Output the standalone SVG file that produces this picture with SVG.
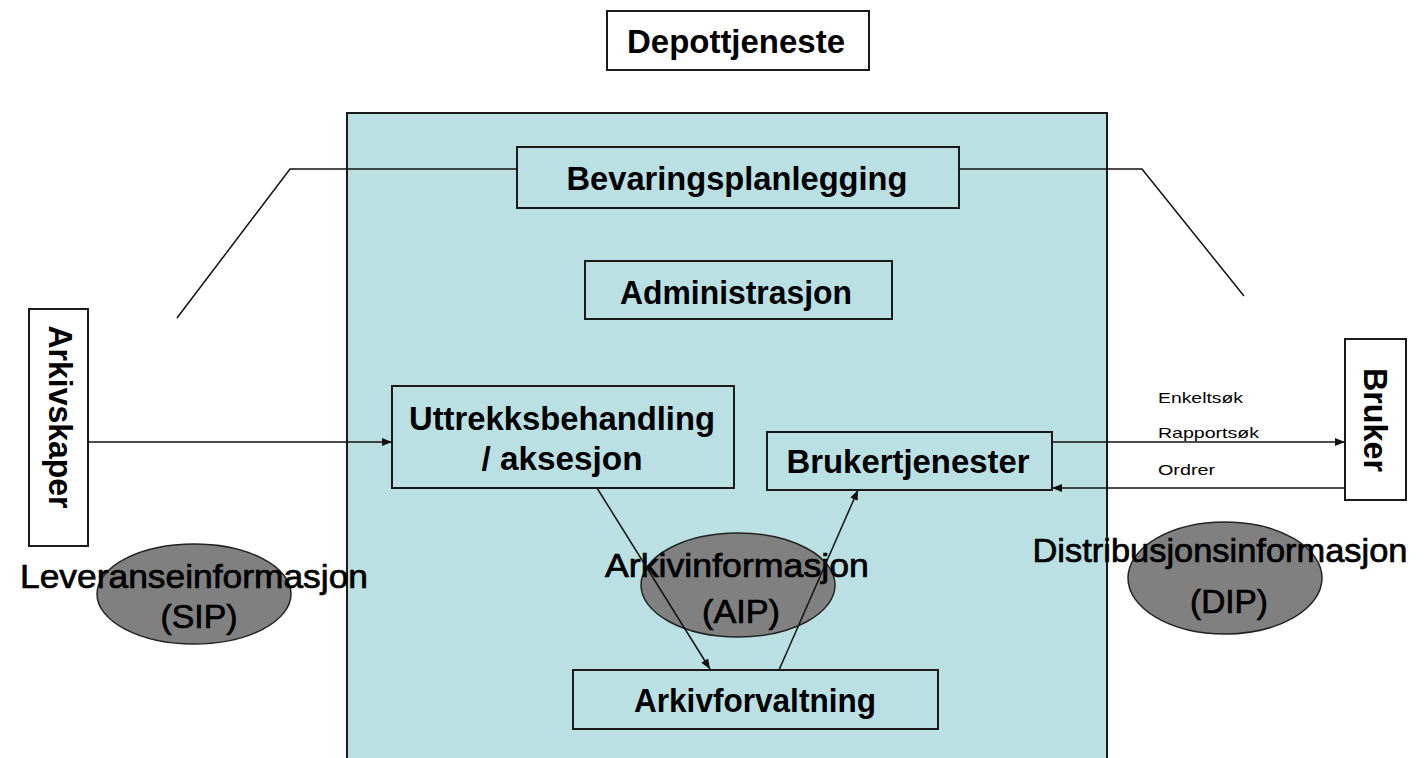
<svg xmlns="http://www.w3.org/2000/svg" width="1425" height="758" viewBox="0 0 1425 758">
<defs>
<marker id="ah" markerWidth="11" markerHeight="9" refX="10" refY="4" orient="auto" markerUnits="userSpaceOnUse">
<path d="M0,0 L10,4 L0,8 z" fill="#111"/>
</marker>
<style>
.box{fill:none;stroke:#1a1a1a;stroke-width:2}
.wbox{fill:#fff;stroke:#1a1a1a;stroke-width:2}
.lbl{font-family:"Liberation Sans",Arial,sans-serif;font-weight:bold;font-size:33px;fill:#000;text-anchor:middle}
.elbl{font-family:"Liberation Sans",Arial,sans-serif;font-size:33px;fill:#000;stroke:#000;stroke-width:0.7;text-anchor:middle}
.small{font-family:"Liberation Sans",Arial,sans-serif;font-size:15px;fill:#000}
.ell{fill:#808080;stroke:#222;stroke-width:1.5}
.ln{fill:none;stroke:#111;stroke-width:1.5}
.arr{fill:none;stroke:#111;stroke-width:1.5;marker-end:url(#ah)}
</style>
</defs>
<rect width="1425" height="758" fill="#fff"/>
<g id="depottjeneste-area">
<rect x="347" y="113" width="760" height="660" fill="#bbe0e3" stroke="#1a1a1a" stroke-width="2"/>
</g>
<g id="title">
<rect class="wbox" x="607" y="11" width="262" height="59"/>
<text class="lbl" x="736" y="53" textLength="218" lengthAdjust="spacingAndGlyphs">Depottjeneste</text>
</g>
<g id="sip">
<ellipse class="ell" cx="194" cy="594" rx="97" ry="50"/>
<text class="elbl" x="194" y="588" textLength="348" lengthAdjust="spacingAndGlyphs">Leveranseinformasjon</text>
<text class="elbl" x="199" y="628" textLength="77" lengthAdjust="spacingAndGlyphs">(SIP)</text>
</g>
<g id="aip">
<ellipse class="ell" cx="738" cy="585" rx="97" ry="52"/>
<text class="elbl" x="737" y="577" textLength="264" lengthAdjust="spacingAndGlyphs">Arkivinformasjon</text>
<text class="elbl" x="741" y="623" textLength="78" lengthAdjust="spacingAndGlyphs">(AIP)</text>
</g>
<g id="dip">
<ellipse class="ell" cx="1225" cy="578" rx="97" ry="56"/>
<text class="elbl" x="1220" y="562" textLength="375" lengthAdjust="spacingAndGlyphs">Distribusjonsinformasjon</text>
<text class="elbl" x="1229" y="613" textLength="78" lengthAdjust="spacingAndGlyphs">(DIP)</text>
</g>
<g id="bevaringsplanlegging">
<rect class="box" x="517" y="147" width="442" height="61"/>
<text class="lbl" x="737" y="190" textLength="341" lengthAdjust="spacingAndGlyphs">Bevaringsplanlegging</text>
</g>
<g id="administrasjon">
<rect class="box" x="585" y="261" width="307" height="58"/>
<text class="lbl" x="736" y="304" textLength="232" lengthAdjust="spacingAndGlyphs">Administrasjon</text>
</g>
<g id="uttrekksbehandling">
<rect class="box" x="392" y="386" width="342" height="102"/>
<text class="lbl" x="562" y="430" textLength="306" lengthAdjust="spacingAndGlyphs">Uttrekksbehandling</text>
<text class="lbl" x="562" y="470" textLength="161" lengthAdjust="spacingAndGlyphs">/ aksesjon</text>
</g>
<g id="brukertjenester">
<rect class="box" x="767" y="432" width="285" height="58"/>
<text class="lbl" x="908" y="473" textLength="243" lengthAdjust="spacingAndGlyphs">Brukertjenester</text>
</g>
<g id="arkivforvaltning">
<rect class="box" x="573" y="670" width="365" height="59"/>
<text class="lbl" x="755" y="712" textLength="242" lengthAdjust="spacingAndGlyphs">Arkivforvaltning</text>
</g>
<g id="arkivskaper">
<rect class="wbox" x="29" y="309" width="59" height="237"/>
<text class="lbl" transform="translate(49,417) rotate(90)" x="0" y="0" textLength="183" lengthAdjust="spacingAndGlyphs">Arkivskaper</text>
</g>
<g id="bruker">
<rect class="wbox" x="1345" y="339" width="61" height="161"/>
<text class="lbl" transform="translate(1364,420) rotate(90)" x="0" y="0" textLength="104" lengthAdjust="spacingAndGlyphs">Bruker</text>
</g>
<g id="flow-labels">
<text class="small" x="1158" y="403" textLength="85" lengthAdjust="spacingAndGlyphs">Enkeltsøk</text>
<text class="small" x="1158" y="438" textLength="101" lengthAdjust="spacingAndGlyphs">Rapportsøk</text>
<text class="small" x="1158" y="475" textLength="57" lengthAdjust="spacingAndGlyphs">Ordrer</text>
</g>
<g id="connectors">
<polyline class="ln" points="177,318 290,169 517,169"/>
<polyline class="ln" points="959,169 1142,169 1244,296"/>
<line class="arr" x1="88" y1="442" x2="392" y2="442"/>
<line class="arr" x1="597" y1="488" x2="710" y2="669"/>
<line class="arr" x1="779" y1="670" x2="858" y2="490"/>
<line class="arr" x1="1052" y1="442" x2="1345" y2="442"/>
<line class="arr" x1="1345" y1="488" x2="1052" y2="488"/>
</g>
</svg>
